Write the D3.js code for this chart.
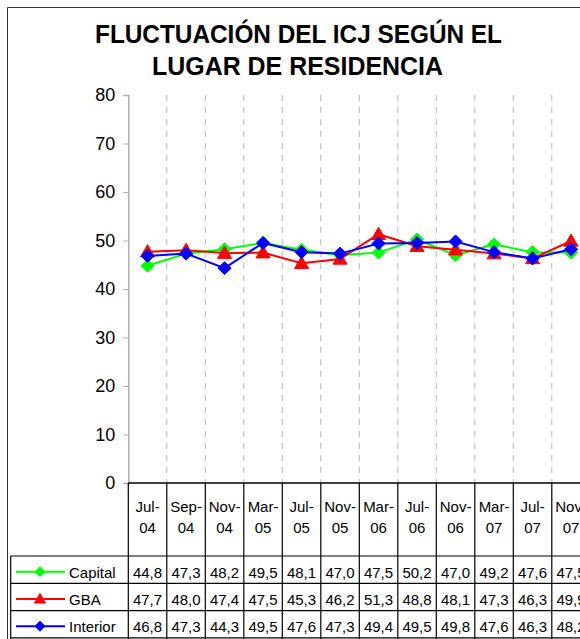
<!DOCTYPE html>
<html>
<head>
<meta charset="utf-8">
<script src="https://cdn.jsdelivr.net/npm/d3@7"></script>
<style>
  body { margin: 0; background: #fff; }
  text { font-family: Arial, "Liberation Sans", sans-serif; }
</style>
</head>
<body>
<svg id="chart" width="580" height="639"></svg>
<script>
// data
var months = ['Jul-04','Sep-04','Nov-04','Mar-05','Jul-05','Nov-05','Mar-06','Jul-06','Nov-06','Mar-07','Jul-07','Nov-07'];
var capital  = [44.8,47.3,48.2,49.5,48.1,47.0,47.5,50.2,47.0,49.2,47.6,47.5];
var gba      = [47.7,48.0,47.4,47.5,45.3,46.2,51.3,48.8,48.1,47.3,46.3,49.9];
var interior = [46.8,47.3,44.3,49.5,47.6,47.3,49.4,49.5,49.8,47.6,46.3,48.2];
var yTicks = [0,10,20,30,40,50,60,70,80];

var series = [
  {name: 'Capital',  values: capital,  color: '#00ff00', shape: 'diamond'},
  {name: 'GBA',      values: gba,      color: '#ff0000', shape: 'triangle'},
  {name: 'Interior', values: interior, color: '#0000ff', shape: 'diamond'}
];

var svg = d3.select('#chart');
var left = 128.3, colW = 38.5;
var x = d3.scaleBand().domain(months).range([left, left + colW*months.length]).padding(0);
var y = d3.scaleLinear().domain([0, 80]).range([483, 95]);

// outer border
svg.append('path').attr('d', 'M7.5,639 V7.5 H580').attr('fill','none').attr('stroke','#333').attr('stroke-width',1);

// title
svg.append('text').attr('x', 298.5).attr('y', 43).attr('text-anchor','middle')
  .style('font-weight','bold').style('font-size','26px').attr('fill','#000')
  .attr('textLength', 407).attr('lengthAdjust','spacingAndGlyphs')
  .text('FLUCTUACIÓN DEL ICJ SEGÚN EL');
svg.append('text').attr('x', 297.5).attr('y', 75).attr('text-anchor','middle')
  .style('font-weight','bold').style('font-size','26px').attr('fill','#000')
  .attr('textLength', 291).attr('lengthAdjust','spacingAndGlyphs')
  .text('LUGAR DE RESIDENCIA');

// dashed vertical gridlines
svg.append('g').selectAll('line').data(months.slice(1)).join('line')
  .attr('x1', d => x(d)).attr('x2', d => x(d))
  .attr('y1', y(80)).attr('y2', y(0))
  .attr('stroke', '#b8b8b8').attr('stroke-dasharray','6,6').attr('stroke-width',1);

// y axis
var yAxis = d3.axisLeft(y).tickValues(yTicks).tickSize(5).tickPadding(8);
var ya = svg.append('g').attr('transform','translate(' + left + ',0)').call(yAxis);
ya.select('.domain').attr('stroke','#b0b0b0').attr('stroke-width',1.5);
ya.selectAll('.tick line').attr('stroke','#b0b0b0');
ya.selectAll('.tick text').style('font-size','18px').attr('fill','#000').attr('font-family','Arial, "Liberation Sans", sans-serif');

// x axis line (top of data table)
svg.append('line').attr('x1', left).attr('x2', 580).attr('y1', y(0)).attr('y2', y(0))
  .attr('stroke','#000').attr('stroke-width',1.5);

// data table
var rowTop = 556, rowH = 27.3, tableLeft = 10.7;
var tbl = svg.append('g');
// column borders
tbl.selectAll('line.col').data(months.map(d => x(d)).concat([x(months[months.length-1]) + colW]))
  .join('line').attr('class','col')
  .attr('x1', d => d).attr('x2', d => d).attr('y1', y(0)).attr('y2', 639)
  .attr('stroke','#000').attr('stroke-width',1.2);
// left border of legend column
tbl.append('line').attr('x1', tableLeft).attr('x2', tableLeft).attr('y1', rowTop).attr('y2', 639)
  .attr('stroke','#000').attr('stroke-width',1.2);
// row borders
[0,1,2,3].forEach(function(i){
  tbl.append('line').attr('x1', tableLeft).attr('x2', 580)
    .attr('y1', rowTop + i*rowH).attr('y2', rowTop + i*rowH)
    .attr('stroke','#000').attr('stroke-width',1.2);
});

// category labels
var cat = tbl.selectAll('text.cat').data(months).join('text').attr('class','cat')
  .attr('text-anchor','middle').style('font-size','15px').attr('fill','#000');
cat.append('tspan').attr('x', d => x(d) + colW/2).attr('y', 512).text(d => d.split('-')[0] + '-');
cat.append('tspan').attr('x', d => x(d) + colW/2).attr('y', 533).text(d => d.split('-')[1]);

function marker(g, shape, color, cx, cy, s) {
  if (shape === 'diamond') {
    g.append('path').attr('d', 'M' + cx + ',' + (cy - s) + 'L' + (cx + s) + ',' + cy + 'L' + cx + ',' + (cy + s) + 'L' + (cx - s) + ',' + cy + 'Z')
      .attr('fill', color).attr('stroke', color).attr('stroke-width', 1);
  } else {
    g.append('path').attr('d', 'M' + cx + ',' + (cy - s) + 'L' + (cx + s) + ',' + (cy + s*0.75) + 'L' + (cx - s) + ',' + (cy + s*0.75) + 'Z')
      .attr('fill', color).attr('stroke', color).attr('stroke-width', 1);
  }
}

// table rows
series.forEach(function(s, i){
  var cy = rowTop + i*rowH + rowH/2;
  var lg = tbl.append('g');
  lg.append('line').attr('x1', 16).attr('x2', 65).attr('y1', cy + 2).attr('y2', cy + 2)
    .attr('stroke', s.color).attr('stroke-width', 2);
  marker(lg, s.shape, s.color, 40, cy + 2, s.shape === 'diamond' ? 5 : 5.5);
  lg.append('text').attr('x', 69).attr('y', cy + 8).style('font-size','15px').attr('fill','#000').text(s.name);
  tbl.append('g').selectAll('text').data(s.values).join('text')
    .attr('x', (d, j) => x(months[j]) + colW/2).attr('y', cy + 8)
    .attr('text-anchor','middle').style('font-size','15px').attr('fill','#000')
    .text(d => d.toFixed(1).replace('.', ','));
});

// lines and markers
var line = d3.line().x((d, j) => x(months[j]) + colW/2).y(d => y(d));
var plot = svg.append('g');
series.forEach(function(s){
  plot.append('path').datum(s.values).attr('d', line)
    .attr('fill','none').attr('stroke', s.color).attr('stroke-width', 2);
  var mg = plot.append('g');
  s.values.forEach(function(v, j){
    marker(mg, s.shape, s.color, x(months[j]) + colW/2, y(v), s.shape === 'diamond' ? 6.5 : 7);
  });
});
</script>
</body>
</html>
